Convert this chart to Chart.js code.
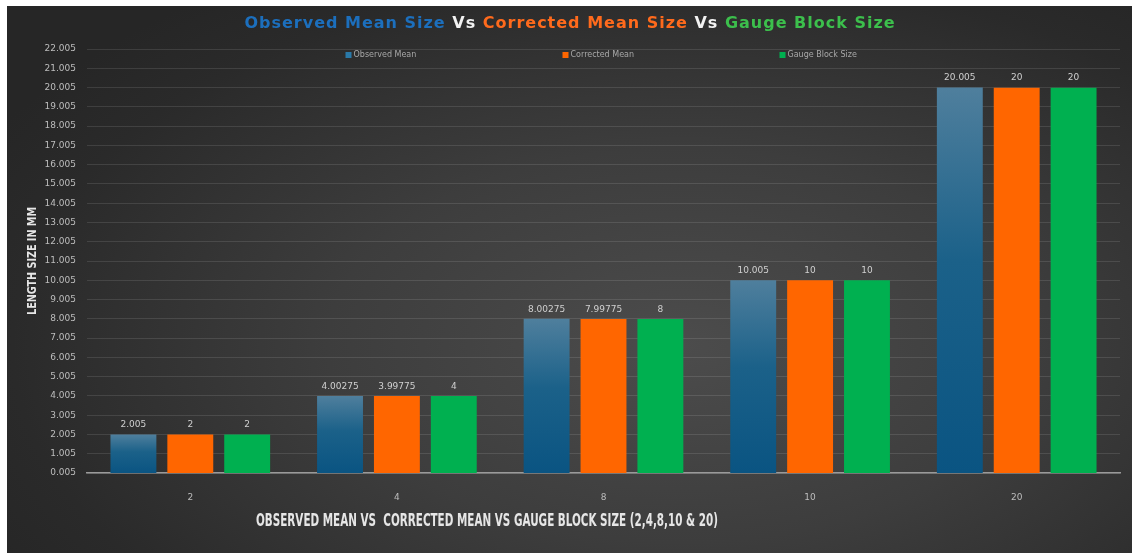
<!DOCTYPE html>
<html>
<head>
<meta charset="utf-8">
<script src="https://cdn.jsdelivr.net/npm/chart.js@4.4.0/dist/chart.umd.min.js"></script>
<style>
  html, body { margin: 0; padding: 0; background: #fff; }
  #panel {
    position: absolute; left: 7px; top: 6px; width: 1125px; height: 547px;
    background: radial-gradient(ellipse 70% 80% at 60% 62%, #4c4c4c 0%, #3d3d3d 45%, #2a2a2a 85%, #262626 100%);
  }
  #panel canvas { display: block; }
</style>
</head>
<body>
<div id="panel"><canvas id="chart" width="1125" height="547"></canvas></div>
<script>
// valeurs
const sizes = ['2', '4', '8', '10', '20'];
const observedMean = [2.005, 4.00275, 8.00275, 10.005, 20.005];
const correctedMean = [2, 3.99775, 7.99775, 10, 20];
const gaugeBlock = [2, 4, 8, 10, 20];
const seriesNames = ['Observed Mean', 'Corrected Mean', 'Gauge Block Size'];

const titleParts = [
    ['Observed Mean Size', '#1c6fbd'],
    [' Vs ', '#f2f2f2'],
    ['Corrected Mean Size', '#ff6a1c'],
    [' Vs ', '#f2f2f2'],
    ['Gauge Block Size', '#3cbf4c'],
];
const xTitle = 'OBSERVED MEAN VS  CORRECTED MEAN VS GAUGE BLOCK SIZE (2,4,8,10 & 20)';
const yTitle = 'LENGTH SIZE IN MM';

const ORANGE = '#ff6600';
const GREEN = '#00b050';
const BLUE = '#0d5a86';
const TICK = '#bdbdbd';
const FONT = '"DejaVu Sans", sans-serif';
const NARROW = '"Liberation Sans Narrow", "DejaVu Sans Condensed", sans-serif';

// dégradé du bleu, clair en haut de chaque barre
function blueFill(ctx) {
    const chart = ctx.chart;
    if (!chart.chartArea || ctx.parsed === undefined) return BLUE;
    const y = chart.scales.y;
    const top = y.getPixelForValue(ctx.parsed.y);
    const bottom = y.getPixelForValue(0);
    if (!isFinite(top) || bottom - top < 1) return BLUE;
    const g = chart.ctx.createLinearGradient(0, top, 0, bottom);
    g.addColorStop(0, '#4f7f9d');
    g.addColorStop(0.45, '#1b6189');
    g.addColorStop(1, '#0a5482');
    return g;
}

const decor = {
    id: 'decor',
    afterDatasetsDraw(chart) {
        const ctx = chart.ctx;
        const area = chart.chartArea;
        ctx.save();

        // étiquettes de valeurs
        ctx.font = '9px ' + FONT;
        ctx.fillStyle = '#d0d0d0';
        ctx.textAlign = 'center';
        ctx.textBaseline = 'bottom';
        chart.data.datasets.forEach((ds, i) => {
            chart.getDatasetMeta(i).data.forEach((bar, j) => {
                ctx.fillText(String(ds.data[j]), bar.x, bar.y - 5);
            });
        });

        // légende
        const midX = (area.left + area.right) / 2;
        const colors = [BLUE, ORANGE, GREEN];
        ctx.font = '8px ' + FONT;
        ctx.textAlign = 'left';
        ctx.textBaseline = 'middle';
        seriesNames.forEach((name, i) => {
            const bx = midX - 41 + (i - 1) * 217;
            const by = area.top + 6;
            ctx.fillStyle = i === 0 ? '#2a79a8' : colors[i];
            ctx.fillRect(bx, by - 3, 6, 6);
            ctx.fillStyle = '#a8a8a8';
            ctx.fillText(name, bx + 8, by);
        });

        // titre multicolore
        ctx.font = 'bold 16px ' + FONT;
        ctx.letterSpacing = '1px';
        ctx.textBaseline = 'middle';
        const total = titleParts.reduce((s, p) => s + ctx.measureText(p[0]).width, 0);
        let tx = 563 - total / 2;
        titleParts.forEach(([text, color]) => {
            ctx.fillStyle = color;
            ctx.fillText(text, tx, 18);
            tx += ctx.measureText(text).width;
        });
        ctx.letterSpacing = '0px';

        // titre de l'axe X
        ctx.font = 'bold 17px ' + NARROW;
        ctx.fillStyle = '#e6e6e6';
        ctx.textAlign = 'center';
        ctx.fillText(xTitle, 480, 516, 462);

        // titre de l'axe Y
        ctx.translate(26, (area.top + area.bottom) / 2);
        ctx.rotate(-Math.PI / 2);
        ctx.font = 'bold 12px ' + NARROW;
        ctx.fillStyle = '#e6e6e6';
        ctx.fillText(yTitle, 0, 0, 108);
        ctx.restore();
    }
};

new Chart(document.getElementById('chart'), {
    type: 'bar',
    data: {
        labels: sizes,
        datasets: [
            { label: seriesNames[0], data: observedMean, backgroundColor: blueFill },
            { label: seriesNames[1], data: correctedMean, backgroundColor: ORANGE },
            { label: seriesNames[2], data: gaugeBlock, backgroundColor: GREEN },
        ],
    },
    options: {
        responsive: false,
        animation: false,
        layout: { padding: { top: 43, right: 12, left: 0, bottom: 0 } },
        datasets: {
            bar: { categoryPercentage: 0.826, barPercentage: 0.807 },
        },
        plugins: {
            legend: { display: false },
            tooltip: { enabled: false },
        },
        scales: {
            x: {
                grid: { display: false },
                border: { color: '#9a9a9a', width: 1.5 },
                ticks: { color: TICK, font: { size: 9, family: FONT }, padding: 11 },
                afterFit(scale) { scale.height = 80; },
            },
            y: {
                min: 0.005,
                max: 22.005,
                grid: { color: 'rgba(255,255,255,0.11)', drawTicks: false },
                border: { display: false },
                ticks: {
                    stepSize: 1,
                    color: TICK,
                    font: { size: 9, family: FONT },
                    padding: 11,
                    callback: v => v.toFixed(3),
                },
                afterFit(scale) { scale.width = 80; },
            },
        },
    },
    plugins: [decor],
});
</script>
</body>
</html>
